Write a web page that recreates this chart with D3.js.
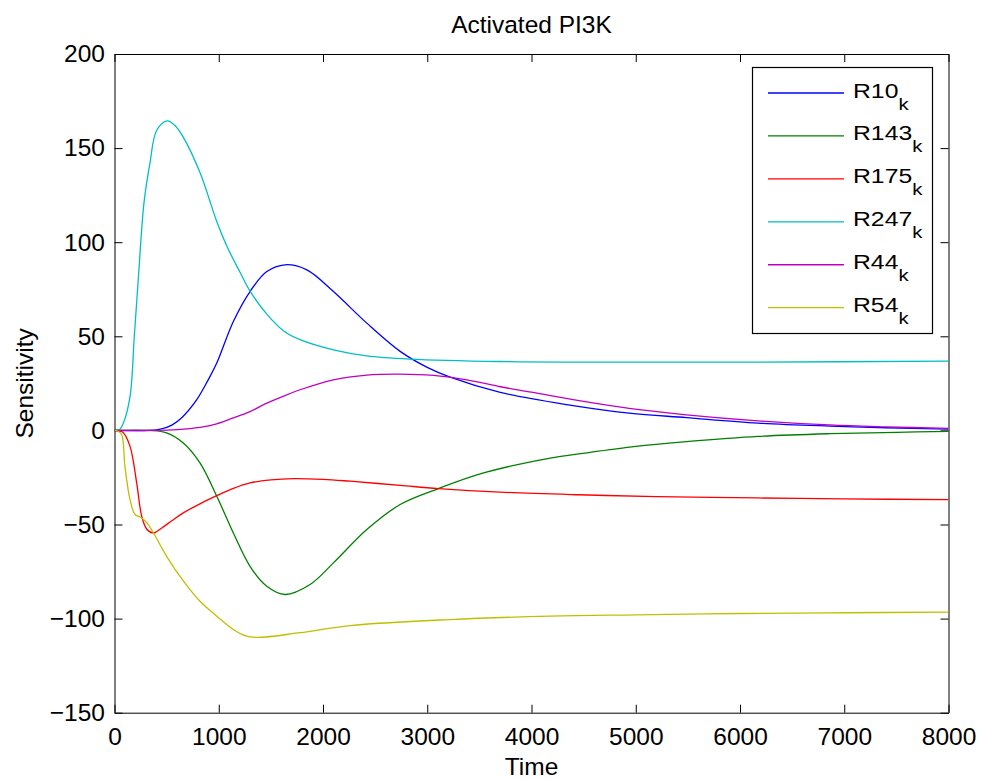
<!DOCTYPE html>
<html lang="en">
<head>
  <meta charset="UTF-8">
  <script src="https://cdn.jsdelivr.net/npm/d3@7"></script>
  <title>Activated PI3K</title>
  <style>
    body { margin: 0; background: #fff; }
    text { font-family: "Liberation Sans", Arial, Helvetica, sans-serif; }
  </style>
</head>
<body>
  <svg class="svg" width="984" height="780"></svg>
  <script>
    // series: [time, sensitivity]
    const r10 = [[0,0],[340,0],[450,0.8],[550,2.8],[650,7],[789,16.3],[900,27],[981,35.8],[1140,57.9],[1300,73.8],[1461,84.4],[1636,88],[1845,85.3],[2100,73.8],[2420,57],[2740,42],[3000,33.5],[3220,28.3],[3700,20.2],[4353,13.6],[4937,9.2],[5486,6.8],[6172,3.9],[6859,2.3],[7400,1.4],[8000,0.7]]
    const r143 = [[0,0],[340,0],[500,-1.3],[660,-6.7],[820,-17.3],[981,-35],[1140,-54.5],[1300,-72.2],[1461,-82.8],[1636,-87.2],[1876,-81.9],[2100,-70.4],[2420,-52.7],[2740,-39.4],[3108,-30.9],[3540,-22.6],[4180,-14.7],[4456,-12.5],[5000,-8.5],[5486,-6],[6172,-3.2],[6859,-1.75],[7500,-1],[8000,-0.5]]
    const r175 = [[0,0],[80,-1],[149,-8.5],[213,-28],[261,-45.6],[310,-52.5],[373,-54.5],[450,-52],[550,-48],[660,-43.8],[820,-39],[981,-34.7],[1140,-30.8],[1300,-27.9],[1500,-26.3],[1716,-25.6],[2000,-26],[2260,-27],[2740,-29.2],[3108,-30.9],[3700,-32.8],[4456,-34.2],[5200,-35.2],[6172,-35.9],[7000,-36.4],[8000,-36.8]]
    const r247 = [[0,0],[50,0.5],[85,3.9],[149,18],[190,50],[229,81],[283,121],[340,142],[405,159.5],[507,164.5],[580,162],[658,156],[820,137],[981,111],[1077,98],[1204,84],[1300,74],[1461,61.8],[1620,53],[1780,48.2],[2100,42.8],[2420,39.6],[2836,37.9],[3700,36.6],[4458,36.3],[6173,36.3],[8000,36.8]]
    const r44 = [[0,0],[400,0],[600,0.4],[820,1.6],[981,3.5],[1140,6.6],[1300,10],[1461,14.5],[1620,18.2],[1780,21.6],[2100,26.9],[2420,29.4],[2740,29.9],[3060,29.2],[3380,26.9],[3700,23.2],[4000,20.3],[4456,15.8],[4937,11.7],[5486,8.3],[6172,5.1],[6859,2.9],[7400,1.9],[8000,1.1]]
    const r54 = [[0,0],[30,-0.3],[69,-2.3],[100,-19],[149,-36.8],[197,-44.7],[261,-46.5],[310,-49],[373,-54.4],[500,-66.9],[660,-80],[820,-90.8],[981,-98.7],[1140,-105.8],[1250,-109],[1365,-110],[1780,-107.5],[2260,-103.7],[3220,-100.5],[4180,-98.7],[5000,-98],[6000,-97.3],[7000,-96.9],[8000,-96.6]]

    const names = ["R10", "R143", "R175", "R247", "R44", "R54"]
    const seriesData = [r10, r143, r175, r247, r44, r54]
    const colors = ["#0000ff", "#008000", "#ff0000", "#00bfbf", "#bf00bf", "#bfbf00"]
    const xTicks = [0, 1000, 2000, 3000, 4000, 5000, 6000, 7000, 8000]
    const yTicks = [-150, -100, -50, 0, 50, 100, 150, 200]

    let svg = d3.select(".svg")
    let margin = ({top: 54, right: 35.5, bottom: 67.3, left: 114.5})
    let width = +svg.attr("width")
    let height = +svg.attr("height")

    let x = d3.scaleLinear()
      .domain([0, 8000])
      .range([margin.left, width - margin.right])

    let y = d3.scaleLinear()
      .domain([-150, 200])
      .range([height - margin.bottom, margin.top])

    let fontSize = 24.5

    let styleAxis = g => g
      .attr("font-size", fontSize)
      .attr("font-family", null)
      .call(g => g.selectAll(".tick line").attr("stroke", "#000"))
      .call(g => g.select(".domain").attr("stroke", "#000"))

    // bottom / left with labels, top / right only ticks (box)
    svg.append("g")
      .attr("transform", `translate(0,${y(-150)})`)
      .call(d3.axisBottom(x).tickValues(xTicks).tickFormat(d3.format("d")).tickSize(-8).tickSizeOuter(0).tickPadding(15))
      .call(styleAxis)

    svg.append("g")
      .attr("transform", `translate(${x(0)},0)`)
      .call(d3.axisLeft(y).tickValues(yTicks).tickSize(-8).tickSizeOuter(0).tickPadding(9.5))
      .call(styleAxis)

    svg.append("g")
      .attr("transform", `translate(0,${y(200)})`)
      .call(d3.axisTop(x).tickValues(xTicks).tickSize(-8).tickSizeOuter(0).tickFormat(""))
      .call(styleAxis)

    svg.append("g")
      .attr("transform", `translate(${x(8000)},0)`)
      .call(d3.axisRight(y).tickValues(yTicks).tickSize(-8).tickSizeOuter(0).tickFormat(""))
      .call(styleAxis)

    svg.append("clipPath")
      .attr("id", "plot")
      .append("rect")
      .attr("x", x(0)).attr("y", y(200))
      .attr("width", x(8000) - x(0)).attr("height", y(-150) - y(200))

    let line = d3.line()
      .x(d => x(d[0]))
      .y(d => y(d[1]))
      .curve(d3.curveCatmullRom.alpha(0.5))

    // 绘制曲线
    svg.append("g")
      .attr("clip-path", "url(#plot)")
      .selectAll("path")
      .data(seriesData)
      .join("path")
      .attr("fill", "none")
      .attr("stroke", (d, i) => colors[i])
      .attr("stroke-width", 1.3)
      .attr("d", line)

    // title and labels
    svg.append("text")
      .attr("x", (x(0) + x(8000)) / 2)
      .attr("y", 33)
      .attr("text-anchor", "middle")
      .attr("font-size", fontSize)
      .text("Activated PI3K")

    svg.append("text")
      .attr("x", (x(0) + x(8000)) / 2)
      .attr("y", 775)
      .attr("text-anchor", "middle")
      .attr("font-size", fontSize)
      .text("Time")

    svg.append("text")
      .attr("transform", `translate(33,${(y(200) + y(-150)) / 2}) rotate(-90)`)
      .attr("text-anchor", "middle")
      .attr("font-size", fontSize)
      .text("Sensitivity")

    // legend
    let legend = svg.append("g")
    legend.append("rect")
      .attr("x", 752.5).attr("y", 67.5)
      .attr("width", 180).attr("height", 266)
      .attr("fill", "#fff")
      .attr("stroke", "#000")
      .attr("stroke-width", 1.2)

    let rowY = i => 93 + i * 42.94

    let rows = legend.selectAll(".row")
      .data(names)
      .join("g")
      .attr("class", "row")

    rows.append("line")
      .attr("x1", 768).attr("x2", 844)
      .attr("y1", (d, i) => rowY(i)).attr("y2", (d, i) => rowY(i))
      .attr("stroke", (d, i) => colors[i])
      .attr("stroke-width", 1.3)

    // legend text is a bit wider than tall in the reference
    let labels = rows.append("text")
      .attr("transform", (d, i) => `translate(853,${rowY(i) + 4.5}) scale(1.27,1)`)
      .attr("font-size", 19.5)
    labels.append("tspan").text(d => d)
    labels.append("tspan")
      .attr("dy", 12)
      .attr("font-size", 16)
      .text("k")
  </script>
</body>
</html>
